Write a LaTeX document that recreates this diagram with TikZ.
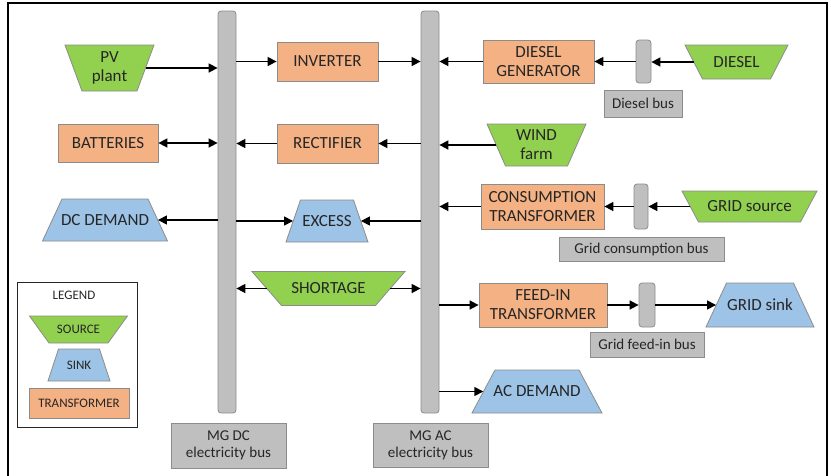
\documentclass[tikz,border=0pt]{standalone}
\usepackage{fontspec}
\setmainfont{Carlito}
\usetikzlibrary{arrows.meta}
\definecolor{srcgreen}{HTML}{92D050}
\definecolor{sinkblue}{HTML}{9DC3E6}
\definecolor{trorange}{HTML}{F4B183}
\definecolor{busgray}{HTML}{BFBFBF}
\definecolor{edgegray}{HTML}{8C8C8C}
\definecolor{txt}{HTML}{262626}
% #1 name, #2 centre, #3 top width, #4 bottom width, #5 height, #6 fill, #7 font style, #8 text
\newcommand\trapnode[8]{%
  \draw[shift={#2}, draw=edgegray, line width=0.8pt, fill=#6]
    (-#3/2,-#5/2) -- (#3/2,-#5/2) -- (#4/2,#5/2) -- (-#4/2,#5/2) -- cycle;
  \node[#7, minimum width={(#3+#4)/2}, minimum height=#5] (#1) at #2 {#8};
}
\begin{document}
\begin{tikzpicture}[x=1pt,y=-1pt,
  every node/.style={text=txt, inner sep=0pt, align=center},
  lbl/.style={font=\fontsize{17}{19}\selectfont},
  small/.style={font=\fontsize{15}{17}\selectfont},
  tiny/.style={font=\fontsize{13}{15}\selectfont},
  trbox/.style={rectangle, draw=edgegray, line width=0.8pt, fill=trorange},
  busbar/.style={rectangle, rounded corners=3pt, draw=edgegray, line width=0.8pt, fill=busgray},
  buslabel/.style={rectangle, draw=edgegray, line width=0.8pt, fill=busgray},
  conn/.style={-{Triangle[length=9pt,width=9pt]}, line width=1.6pt, black},
  conn2/.style={{Triangle[length=9pt,width=9pt]}-{Triangle[length=9pt,width=9pt]}, line width=1.6pt, black}
]
\useasboundingbox (0,0) rectangle (831,475);
\draw[line width=2pt] (8,520) -- (8,3) -- (827,3) -- (827,520);

% main buses
\node[busbar, minimum width=18, minimum height=402] (dcbus) at (227,212) {};
\node[busbar, minimum width=18, minimum height=402] (acbus) at (430,212) {};
\node[buslabel, small, minimum width=115, minimum height=45] (dclbl) at (228.5,445.5) {MG DC\\electricity bus};
\node[buslabel, small, minimum width=115, minimum height=44] (aclbl) at (430.5,445) {MG AC\\electricity bus};

% left column
\trapnode{pv}{(109.5,68)}{89}{55}{46}{srcgreen}{lbl}{PV\\plant}
\node[trbox, lbl, minimum width=100, minimum height=38] (bat) at (108,143) {BATTERIES};
\trapnode{dcd}{(105,220)}{86}{125}{42}{sinkblue}{lbl}{DC DEMAND}

% middle column
\node[trbox, lbl, minimum width=101, minimum height=39] (inv) at (327.5,61.5) {INVERTER};
\node[trbox, lbl, minimum width=101, minimum height=39] (rect) at (327.5,143.5) {RECTIFIER};
\trapnode{exc}{(327,221)}{53}{82}{42}{sinkblue}{lbl}{EXCESS}
\trapnode{sho}{(328.5,288.5)}{153}{94}{34}{srcgreen}{lbl}{SHORTAGE}

% right side
\node[trbox, lbl, minimum width=111, minimum height=43] (dg) at (538.5,61.5) {DIESEL\\GENERATOR};
\node[busbar, minimum width=15, minimum height=43] (dbus) at (643.5,61.5) {};
\node[buslabel, small, minimum width=78, minimum height=27] (dbuslbl) at (643,103.5) {Diesel bus};
\trapnode{diesel}{(736.5,62)}{103}{68}{34}{srcgreen}{lbl}{DIESEL}

\trapnode{wind}{(536.5,145)}{99}{62}{42}{srcgreen}{lbl}{WIND\\farm}

\node[trbox, lbl, minimum width=123, minimum height=45] (ct) at (542.5,206.5) {CONSUMPTION\\TRANSFORMER};
\node[busbar, minimum width=14, minimum height=45] (gcbus) at (641,206.5) {};
\node[buslabel, small, minimum width=165, minimum height=24] (gcbuslbl) at (641.5,249) {Grid consumption bus};
\trapnode{gsrc}{(749.5,206.5)}{135}{102}{31}{srcgreen}{lbl}{GRID source}

\node[trbox, lbl, minimum width=128, minimum height=44] (fit) at (543,305) {FEED-IN\\TRANSFORMER};
\node[busbar, minimum width=16, minimum height=44] (gfbus) at (647,305) {};
\node[buslabel, small, minimum width=114, minimum height=25] (gfbuslbl) at (647,344.5) {Grid feed-in bus};
\trapnode{gsink}{(760,305)}{67}{108}{44}{sinkblue}{lbl}{GRID sink}

\trapnode{acd}{(537,391.5)}{84}{130}{43}{sinkblue}{lbl}{AC DEMAND}

% legend
\node[rectangle, draw=black!85, line width=1pt, minimum width=120, minimum height=145] (leg) at (77,354.5) {};
\node[tiny] (legt) at (74,295) {LEGEND};
\trapnode{lsrc}{(78.5,329.5)}{98}{59}{27}{srcgreen}{tiny}{SOURCE}
\trapnode{lsink}{(79,365)}{41}{62}{32}{sinkblue}{tiny}{SINK}
\node[trbox, tiny, minimum width=100, minimum height=30] (ltr) at (79,403) {TRANSFORMER};

% connectors
\draw[conn] (pv.east) -- (pv.east -| dcbus.west);
\draw[conn] (inv.west -| dcbus.east) -- (inv.west);
\draw[conn] (inv.east) -- (inv.east -| acbus.west);
\draw[conn2] (bat.east) -- (bat.east -| dcbus.west);
\draw[conn] (rect.west) -- (rect.west -| dcbus.east);
\draw[conn] (rect.east -| acbus.west) -- (rect.east);
\draw[conn] (dcd.east -| dcbus.west) -- (dcd.east);
\draw[conn] (exc.west -| dcbus.east) -- (exc.west);
\draw[conn] (exc.east -| acbus.west) -- (exc.east);
\draw[conn] (sho.west) -- (sho.west -| dcbus.east);
\draw[conn] (sho.east) -- (sho.east -| acbus.west);

\draw[conn] (dg.west) -- (dg.west -| acbus.east);
\draw[conn] (dbus.west) -- (dbus.west -| dg.east);
\draw[conn] (diesel.west) -- (diesel.west -| dbus.east);
\draw[conn] (wind.west) -- (wind.west -| acbus.east);
\draw[conn] (ct.west) -- (ct.west -| acbus.east);
\draw[conn] (gcbus.west) -- (gcbus.west -| ct.east);
\draw[conn] (gsrc.west) -- (gsrc.west -| gcbus.east);
\draw[conn] (fit.west -| acbus.east) -- (fit.west);
\draw[conn] (fit.east) -- (fit.east -| gfbus.west);
\draw[conn] (gfbus.east) -- (gfbus.east -| gsink.west);
\draw[conn] (acd.west -| acbus.east) -- (acd.west);
\end{tikzpicture}
\end{document}
